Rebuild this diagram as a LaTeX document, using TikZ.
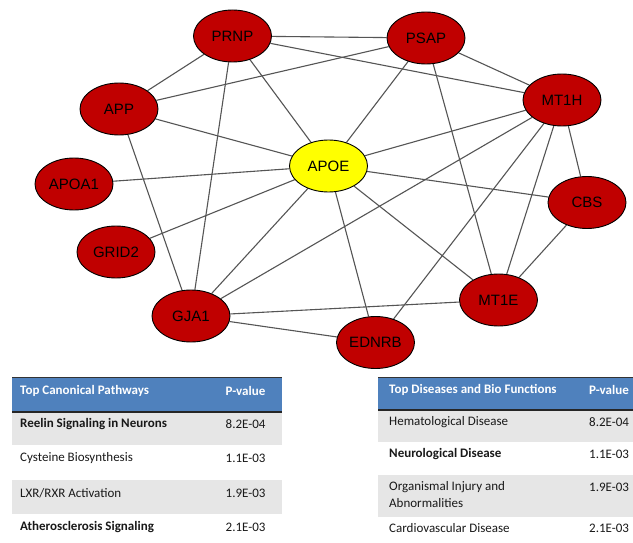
\documentclass[tikz,border=0pt]{standalone}
\usepackage{fontspec}
\setmainfont{Carlito}
\newfontfamily\arialfont{Liberation Sans}
\usetikzlibrary{shapes.geometric,backgrounds}
\definecolor{genered}{HTML}{C00000}
\definecolor{hubyellow}{HTML}{FFFF00}
\definecolor{edgegray}{HTML}{555555}
\definecolor{headblue}{HTML}{4F81BD}
\definecolor{rowgray}{HTML}{E6E6E6}
\begin{document}
\begin{tikzpicture}[x=1pt,y=-1pt,
  gene/.style={ellipse,draw=black,line width=0.9pt,fill=genered,minimum width=78pt,minimum height=52pt,inner sep=0pt,font=\arialfont\fontsize{15}{18}\selectfont},
  hub/.style={gene,fill=hubyellow},
  link/.style={draw=edgegray,line width=1.1pt},
  headbar/.style={fill=headblue,draw=none},
  grayrow/.style={fill=rowgray,draw=none},
  toprule/.style={draw=black!80,line width=0.8pt},
  midrule/.style={draw=black!85,line width=1.8pt},
  headtxt/.style={anchor=west,inner sep=0pt,text=white,font=\fontsize{13}{15}\selectfont\bfseries},
  celltxt/.style={anchor=west,inner sep=0pt,text=black!90,font=\fontsize{13}{15}\selectfont},
  boldtxt/.style={celltxt,font=\fontsize{13}{15}\selectfont\bfseries}]
\useasboundingbox (0,0) rectangle (633,543);

% ---------- network ----------
\node[gene] (PRNP)  at (232.5,36)  {PRNP};
\node[gene] (PSAP)  at (426,38)    {PSAP};
\node[gene] (APP)   at (119,109)   {APP};
\node[gene] (MT1H)  at (562,100)   {MT1H};
\node[hub]  (APOE)  at (328.5,166) {APOE};
\node[gene] (APOA1) at (74,184)    {APOA1};
\node[gene] (CBS)   at (587,202.5) {CBS};
\node[gene] (GRID2) at (116,252)   {GRID2};
\node[gene] (MT1E)  at (498.5,300) {MT1E};
\node[gene] (GJA1)  at (191,316)   {GJA1};
\node[gene] (EDNRB) at (375.5,342.5) {EDNRB};

\begin{scope}[on background layer]
\fill[white] (0,0) rectangle (633,543);
\draw[link] (PRNP) -- (PSAP);
\draw[link] (PRNP) -- (MT1H);
\draw[link] (PRNP) -- (APP);
\draw[link] (PRNP) -- (GJA1);
\draw[link] (PRNP) -- (APOE);
\draw[link] (APP) -- (PSAP);
\draw[link] (APP) -- (APOE);
\draw[link] (APP) -- (GJA1);
\draw[link] (APOA1) -- (APOE);
\draw[link] (GRID2) -- (APOE);
\draw[link] (GJA1) -- (APOE);
\draw[link] (GJA1) -- (MT1H);
\draw[link] (GJA1) -- (MT1E);
\draw[link] (GJA1) -- (EDNRB);
\draw[link] (PSAP) -- (MT1H);
\draw[link] (PSAP) -- (APOE);
\draw[link] (PSAP) -- (MT1E);
\draw[link] (MT1H) -- (APOE);
\draw[link] (MT1H) -- (EDNRB);
\draw[link] (MT1H) -- (MT1E);
\draw[link] (MT1H) -- (CBS);
\draw[link] (APOE) -- (CBS);
\draw[link] (APOE) -- (MT1E);
\draw[link] (APOE) -- (EDNRB);
\draw[link] (CBS) -- (MT1E);
\end{scope}

% ---------- left table ----------
\fill[headbar] (12,377) rectangle (282,412);
\fill[grayrow] (12,412) rectangle (282,445);
\fill[grayrow] (12,480) rectangle (282,514);
\draw[toprule] (12,377) -- (282,377);
\draw[midrule] (12,412) -- (282,412);
\node[headtxt] (lh1) at (20,391) {Top Canonical Pathways};
\node[headtxt] (lh2) at (225.5,391) {P-value};
\node[boldtxt] (l1a) at (20,424) {Reelin Signaling in Neurons};
\node[celltxt] (l1b) at (225.5,424) {8.2E-04};
\node[celltxt] (l2a) at (20,458.5) {Cysteine Biosynthesis};
\node[celltxt] (l2b) at (225.5,458.5) {1.1E-03};
\node[celltxt] (l3a) at (20,493) {LXR/RXR Activation};
\node[celltxt] (l3b) at (225.5,493) {1.9E-03};
\node[boldtxt] (l4a) at (20,527) {Atherosclerosis Signaling};
\node[celltxt] (l4b) at (225.5,527) {2.1E-03};

% ---------- right table ----------
\fill[headbar] (378,377) rectangle (633,410);
\fill[grayrow] (378,410) rectangle (633,442);
\fill[grayrow] (378,475) rectangle (633,517);
\draw[toprule] (378,377) -- (633,377);
\draw[midrule] (378,410) -- (633,410);
\node[headtxt] (rh1) at (389,390) {Top Diseases and Bio Functions};
\node[headtxt] (rh2) at (589,390) {P-value};
\node[celltxt] (r1a) at (389,422) {Hematological Disease};
\node[celltxt] (r1b) at (589,422) {8.2E-04};
\node[boldtxt] (r2a) at (389,454.5) {Neurological Disease};
\node[celltxt] (r2b) at (589,454.5) {1.1E-03};
\node[celltxt] (r3a) at (389,487) {Organismal Injury and};
\node[celltxt] (r3c) at (389,503) {Abnormalities};
\node[celltxt] (r3b) at (589,487) {1.9E-03};
\node[celltxt] (r4a) at (389,528) {Cardiovascular Disease};
\node[celltxt] (r4b) at (589,528) {2.1E-03};
\end{tikzpicture}
\end{document}
